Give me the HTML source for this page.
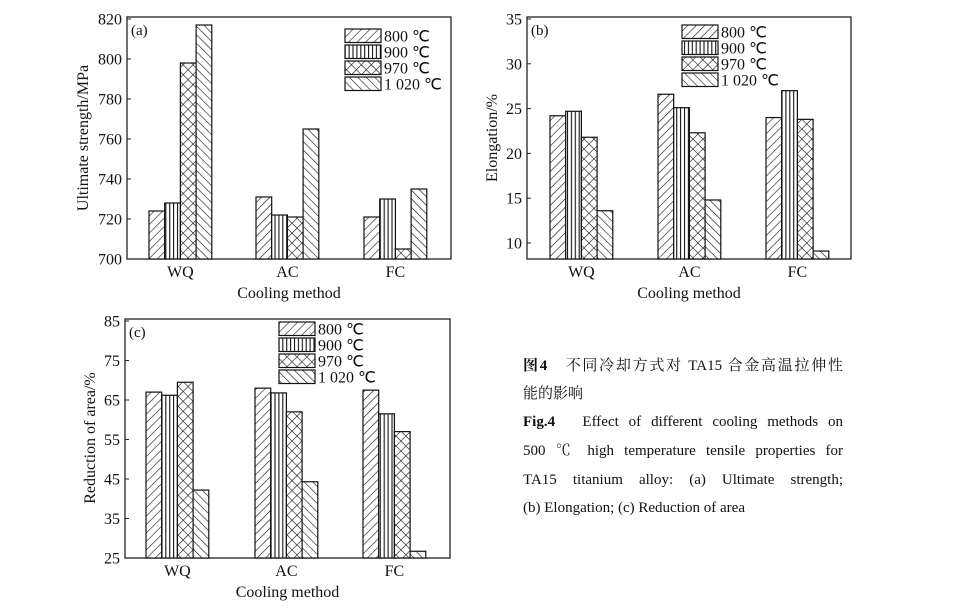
<!DOCTYPE html>
<html><head><meta charset="utf-8"><style>
body{margin:0;background:#fff;width:961px;height:614px;overflow:hidden}
svg{position:absolute;left:0;top:0}
.cap{position:absolute;left:523px;width:320px;font-family:"Liberation Serif","Noto Serif CJK SC",serif;font-size:15px;color:#111;line-height:29px;text-align:justify;text-align-last:justify}
</style></head><body>
<svg id="s" width="961" height="614" xmlns="http://www.w3.org/2000/svg" font-family="Liberation Serif, serif" fill="#111">
<defs>
<pattern id="p0" width="6" height="6" patternUnits="userSpaceOnUse" patternTransform="rotate(45)"><rect width="6" height="6" fill="#fff"/><line x1="0" y1="0" x2="0" y2="6" stroke="#111" stroke-width="1.2"/></pattern>
<pattern id="p1" width="3.9" height="4" patternUnits="userSpaceOnUse"><rect width="4" height="4" fill="#fff"/><line x1="2" y1="0" x2="2" y2="4" stroke="#111" stroke-width="1.1"/></pattern>
<pattern id="p2" width="7" height="7" patternUnits="userSpaceOnUse" patternTransform="rotate(45)"><rect width="7" height="7" fill="#fff"/><line x1="0" y1="0" x2="0" y2="7" stroke="#111" stroke-width="1.2"/><line x1="0" y1="0" x2="7" y2="0" stroke="#111" stroke-width="1.2"/></pattern>
<pattern id="p3" width="6" height="6" patternUnits="userSpaceOnUse" patternTransform="rotate(-45)"><rect width="6" height="6" fill="#fff"/><line x1="0" y1="0" x2="0" y2="6" stroke="#111" stroke-width="1.2"/></pattern>
</defs>
</svg>
<div class="cap" style="top:352px"><b>图4</b>　不同冷却方式对 TA15 合金高温拉伸性</div>
<div class="cap" style="top:380px;text-align-last:left">能的影响</div>
<div class="cap" style="top:408px"><b>Fig.4</b>　Effect of different cooling methods on</div>
<div class="cap" style="top:437px">500 ℃ high temperature tensile properties for</div>
<div class="cap" style="top:466px">TA15 titanium alloy: (a) Ultimate strength;</div>
<div class="cap" style="top:494px;text-align-last:left">(b) Elongation; (c) Reduction of area</div>
<script>
const s=document.getElementById('s');let h='';
function chart(c){
 const {x0,x1,y0,y1,ticks,map,gs,vals,ylab,ylx,yly,lx,ly,tag}=c;
 h+=`<rect x="${x0}" y="${y0}" width="${x1-x0}" height="${y1-y0}" fill="none" stroke="#222" stroke-width="1.3"/>`;
 ticks.forEach(t=>{const y=map(t);h+=`<text x="${x0-5}" y="${y+5.5}" font-size="16" text-anchor="end">${t}</text><line x1="${x0}" x2="${x0+4}" y1="${y}" y2="${y}" stroke="#222"/>`;});
 const names=['WQ','AC','FC'];
 gs.forEach((g,i)=>{vals[i].forEach((v,j)=>{const y=map(v);h+=`<rect x="${g+j*15.7}" y="${y}" width="15.7" height="${y1-y}" fill="url(#p${j})" stroke="#111" stroke-width="1.2"/>`;});
  h+=`<text x="${g+31.4}" y="${y1+18}" font-size="16" text-anchor="middle">${names[i]}</text>`;});
 h+=`<text x="${(x0+x1)/2}" y="${y1+39}" font-size="16" text-anchor="middle">Cooling method</text>`;
 h+=`<text transform="translate(${ylx},${yly}) rotate(-90)" font-size="16" text-anchor="middle">${ylab}</text>`;
 h+=`<text x="${x0+4}" y="${y0+18}" font-size="15">${tag}</text>`;
 ['800 ℃','900 ℃','970 ℃','1 020 ℃'].forEach((t,j)=>{const y=ly+j*16;h+=`<rect x="${lx}" y="${y}" width="36" height="13.5" fill="url(#p${j})" stroke="#111" stroke-width="1.2"/><text x="${lx+39}" y="${y+12.5}" font-size="16">${t}</text>`;});
}
chart({x0:127,x1:451,y0:17,y1:259,ticks:[700,720,740,760,780,800,820],map:v=>259-(v-700)*2,gs:[149,256,364],
 vals:[[724,728,798,817],[731,722,721,765],[721,730,705,735]],ylab:'Ultimate strength/MPa',ylx:88,yly:138,lx:345,ly:29,tag:'(a)'});
chart({x0:527,x1:851,y0:17,y1:259,ticks:[10,15,20,25,30,35],map:v=>243-(v-10)*8.96,gs:[550,658,766],
 vals:[[24.2,24.7,21.8,13.6],[26.6,25.1,22.3,14.8],[24,27,23.8,9.1]],ylab:'Elongation/%',ylx:497,yly:138,lx:682,ly:25,tag:'(b)'});
chart({x0:125,x1:450,y0:319,y1:558,ticks:[25,35,45,55,65,75,85],map:v=>558-(v-25)*3.95,gs:[146,255,363],
 vals:[[67,66.2,69.5,42.2],[68,66.8,62,44.3],[67.5,61.5,57,26.7]],ylab:'Reduction of area/%',ylx:95,yly:438,lx:279,ly:322,tag:'(c)'});
s.insertAdjacentHTML('beforeend',h);
</script>
</body></html>
